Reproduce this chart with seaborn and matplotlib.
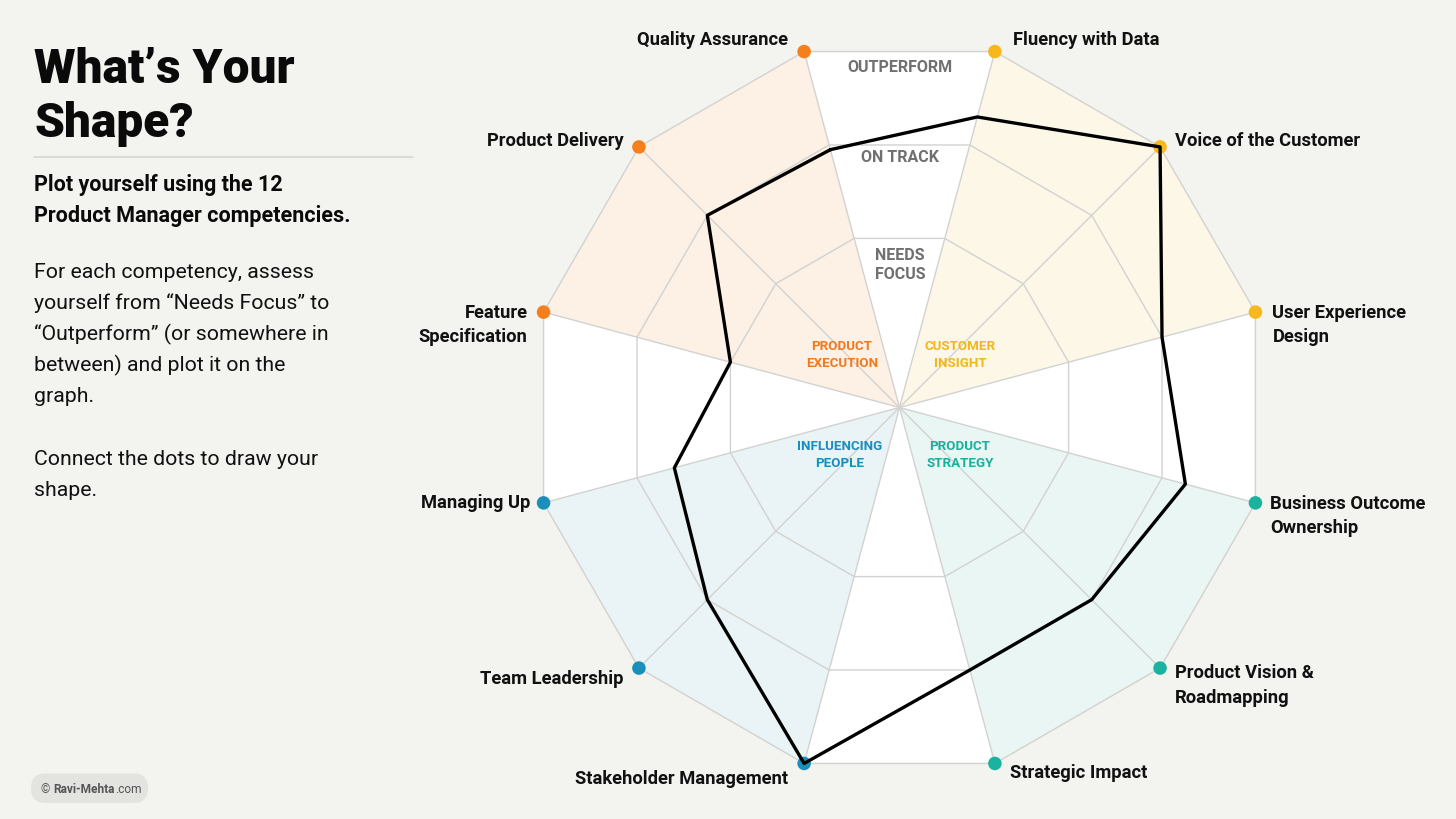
import numpy as np
import pandas as pd
import matplotlib
matplotlib.use("Agg")
import matplotlib.pyplot as plt
import seaborn as sns
from matplotlib.patches import FancyBboxPatch

# ---------------- data ----------------
competencies = ["Quality Assurance", "Fluency with Data", "Voice of the Customer",
                "User Experience\nDesign", "Business Outcome\nOwnership",
                "Product Vision &\nRoadmapping", "Strategic Impact",
                "Stakeholder Management", "Team Leadership", "Managing Up",
                "Feature\nSpecification", "Product Delivery"]
groups = ["Product Execution", "Customer Insight", "Customer Insight", "Customer Insight",
          "Product Strategy", "Product Strategy", "Product Strategy",
          "Influencing People", "Influencing People", "Influencing People",
          "Product Execution", "Product Execution"]
scores = [1.95, 2.3, 3.0, 2.0, 2.25, 2.0, 2.0, 3.0, 2.0, 1.6, 1.0, 2.0]
level_values = [1, 2, 3]
level_names = ["NEEDS\nFOCUS", "ON TRACK", "OUTPERFORM"]
group_names = ["Product Execution", "Customer Insight", "Product Strategy", "Influencing People"]
group_labels = ["PRODUCT\nEXECUTION", "CUSTOMER\nINSIGHT", "PRODUCT\nSTRATEGY", "INFLUENCING\nPEOPLE"]

# ---------------- style ----------------
BG = "#f3f3ef"
dot_colors = {"Product Execution": "#f47f1c", "Customer Insight": "#f6b81d",
              "Product Strategy": "#1bb3a0", "Influencing People": "#1a8fba"}
fill_colors = {"Product Execution": "#fdf0e5", "Customer Insight": "#fdf7e8",
               "Product Strategy": "#e9f6f4", "Influencing People": "#eaf3f5"}
text_colors = {"Product Execution": "#f07a1e", "Customer Insight": "#f3b61c",
               "Product Strategy": "#19b09c", "Influencing People": "#1a8fbd"}
GRID = "#d2d2d0"
LEVEL_TXT = "#707070"

sns.set_theme(style="white")
plt.rcParams["font.family"] = ["Roboto", "DejaVu Sans"]

W, H = 1456, 819
fig = plt.figure(figsize=(W / 100, H / 100), dpi=100, facecolor=BG)

# polar chart placement (pixels)
cx, cy, R = 899.5, 407.5, 368.5
RMIN, RMAX = -0.81, 3.0
ax = fig.add_axes([(cx - R) / W, 1 - (cy + R) / H, 2 * R / W, 2 * R / H], projection="polar")
ax.set_theta_zero_location("N")
ax.set_theta_direction(-1)
ax.set_ylim(RMIN, RMAX)
ax.set_axis_off()

n = len(competencies)
theta = np.deg2rad(-15 + 30 * np.arange(n))
df = pd.DataFrame({"competency": competencies, "group": groups, "score": scores, "theta": theta})

# white base polygon
closed_t = np.append(theta, theta[0])
ax.fill(closed_t, [RMAX] * (n + 1), color="white", zorder=0.5, clip_on=False, lw=0)

# group sectors
for g in group_names:
    idx = [i for i in range(n) if groups[i] == g]
    th = np.sort(np.mod(theta[idx], 2 * np.pi))
    ts = np.concatenate([[0.0], th])
    rs = np.concatenate([[RMIN], [RMAX] * len(th)])
    ax.fill(ts, rs, color=fill_colors[g], zorder=1, clip_on=False, lw=0)

# grid rings
for lv in level_values:
    ax.plot(closed_t, [lv] * (n + 1), color=GRID, lw=1.0, zorder=2, clip_on=False)
# spokes
for t in theta:
    ax.plot([t, t], [RMIN, RMAX], color=GRID, lw=1.0, zorder=2, clip_on=False)

# outer dots
outer = df.assign(r=RMAX)
sns.scatterplot(data=outer, x="theta", y="r", hue="group", palette=dot_colors, s=95,
                edgecolor="none", legend=False, ax=ax, zorder=4, clip_on=False)

# the shape
shape = pd.concat([df, df.iloc[[0]]], ignore_index=True)
sns.lineplot(data=shape, x="theta", y="score", sort=False, estimator=None, color="black",
             lw=2.4, ax=ax, zorder=5, clip_on=False)
ax.set_xlabel("")
ax.set_ylabel("")
ax.set_ylim(RMIN, RMAX)

# competency labels
label_style = [  # (dx, dy, ha) in pixels
    (-16, 12, "right"), (18, 12, "left"), (15, 6, "left"), (17, -13, "left"),
    (15, -13, "left"), (15, -17.5, "left"), (15, -9.5, "left"), (-16, -15.5, "right"),
    (-15, -11, "right"), (-13, 0, "right"), (-16, -13, "right"), (-15, 6, "right")]
for i, (dx, dy, ha) in enumerate(label_style):
    ax.annotate(competencies[i], xy=(theta[i], RMAX), xytext=(dx, dy), textcoords="offset pixels",
                ha=ha, va="center", multialignment=ha, fontsize=13.2, fontweight="bold",
                color="#111111", linespacing=1.45, annotation_clip=False, zorder=6)

# ---------------- overlay for text in pixel coordinates ----------------
ov = fig.add_axes([0, 0, 1, 1], zorder=5)
ov.set_xlim(0, W)
ov.set_ylim(H, 0)
ov.set_axis_off()
ov.patch.set_alpha(0)

# level labels
level_pos = {"OUTPERFORM": (900, 68), "ON TRACK": (900, 158), "NEEDS\nFOCUS": (900, 265)}
for name in level_names:
    x, y = level_pos[name]
    ov.text(x, y, name, ha="center", va="center", fontsize=11.5, fontweight="bold",
            color=LEVEL_TXT, linespacing=1.4)

# group labels
group_pos = {"Product Execution": (842, 355), "Customer Insight": (960, 355),
             "Product Strategy": (960, 455), "Influencing People": (840, 455)}
for g, lab in zip(group_names, group_labels):
    x, y = group_pos[g]
    ov.text(x, y, lab, ha="center", va="center", fontsize=9.6, fontweight="bold",
            color=text_colors[g], linespacing=1.35)

# left panel
ov.text(34, 83, "What’s Your", fontsize=34.5, fontweight="black", color="#0a0a0a", va="baseline")
ov.text(34, 137, "Shape?", fontsize=34.5, fontweight="black", color="#0a0a0a", va="baseline")
ov.plot([34, 413], [156.5, 156.5], color="#d6d6d2", lw=1.2)
ov.text(34, 191, "Plot yourself using the 12", fontsize=15.5, fontweight="bold", color="#0a0a0a", va="baseline")
ov.text(34, 222, "Product Manager competencies.", fontsize=15.5, fontweight="bold", color="#0a0a0a", va="baseline")
body = [("For each competency, assess", 278), ("yourself from “Needs Focus” to", 309),
        ("“Outperform” (or somewhere in", 340), ("between) and plot it on the", 371),
        ("graph.", 402), ("Connect the dots to draw your", 465), ("shape.", 496)]
for s, y in body:
    ov.text(34, y, s, fontsize=15.3, color="#111111", va="baseline")

# footer pill
pill = FancyBboxPatch((31, 773.5), 117, 29.5, boxstyle="round,pad=0,rounding_size=14.5",
                      fc="#e3e3e0", ec="none", mutation_aspect=1)
ov.add_patch(pill)
fig.canvas.draw()
renderer = fig.canvas.get_renderer()
x0 = 41
for part, wt in [("© ", "normal"), ("Ravi-Mehta", "bold"), (".com", "normal")]:
    t = ov.text(x0, 793, part, fontsize=8.6, fontweight=wt, color="#555555", va="baseline")
    bb = t.get_window_extent(renderer=renderer)
    x0 += bb.width

fig.savefig("out.png", dpi=100, facecolor=BG)
